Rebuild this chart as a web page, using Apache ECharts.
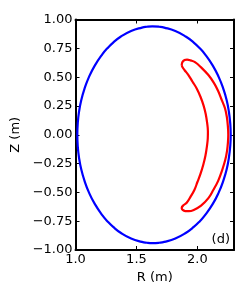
<!DOCTYPE html>
<html>
<head>
<meta charset="utf-8">
<script src="https://cdn.jsdelivr.net/npm/echarts@6/dist/echarts.min.js"></script>
<style>html,body{margin:0;padding:0;background:#fff}#c{width:249px;height:299px}</style>
</head>
<body>
<div id="c"></div>
<script>
// Plasma boundary (blue) : [R, Z]
var boundaryR = [1.015,1.0185,1.029,1.047,1.074,1.110,1.158,1.221,1.261,1.309,1.370,1.456,1.545,1.586,1.630,1.686,1.728,1.819,1.907,1.970,2.020,2.061,2.126,2.175,2.212,2.240,2.258,2.269,2.273,2.269,2.258,2.240,2.212,2.175,2.126,2.061,2.020,1.970,1.907,1.819,1.728,1.686,1.630,1.586,1.545,1.456,1.370,1.309,1.261,1.221,1.158,1.110,1.074,1.047,1.029,1.0185,1.015];
var boundaryZ = [0.00,0.10,0.20,0.30,0.40,0.50,0.60,0.70,0.75,0.80,0.85,0.90,0.93,0.937,0.94,0.937,0.93,0.90,0.85,0.80,0.75,0.70,0.60,0.50,0.40,0.30,0.20,0.10,0.00,-0.10,-0.20,-0.30,-0.40,-0.50,-0.60,-0.70,-0.75,-0.80,-0.85,-0.90,-0.93,-0.937,-0.94,-0.937,-0.93,-0.90,-0.85,-0.80,-0.75,-0.70,-0.60,-0.50,-0.40,-0.30,-0.20,-0.10,0.00];
// Crescent contour (red) : [R, Z]
var crescentR = [1.871,1.878,1.895,1.915,1.945,1.980,2.030,2.090,2.135,2.170,2.200,2.226,2.242,2.250,2.253,2.250,2.243,2.228,2.205,2.170,2.130,2.090,2.030,1.970,1.930,1.900,1.879,1.871,1.885,1.912,1.945,1.975,2.000,2.025,2.048,2.066,2.078,2.085,2.086,2.080,2.068,2.050,2.025,1.995,1.960,1.925,1.895,1.878,1.871];
var crescentZ = [0.605,0.632,0.648,0.652,0.645,0.630,0.585,0.518,0.450,0.380,0.300,0.230,0.150,0.070,0.000,-0.070,-0.140,-0.220,-0.300,-0.400,-0.480,-0.550,-0.615,-0.652,-0.663,-0.662,-0.652,-0.635,-0.612,-0.590,-0.535,-0.480,-0.410,-0.340,-0.260,-0.180,-0.100,-0.030,0.030,0.100,0.180,0.255,0.330,0.400,0.460,0.520,0.560,0.585,0.605];
var xTicks = [1.0, 1.5, 2.0];
var yTicks = [-1.0,-0.75,-0.5,-0.25,0.0,0.25,0.5,0.75,1.0];
var xLabel = 'R (m)';
var yLabel = 'Z (m)';
var panelTag = '(d)';

function pairs(a, b){ return a.map(function(v,i){ return [v, b[i]]; }); }
var FONT = 'DejaVu Sans';
function fmtY(v){ return v.toFixed(2).replace('-', '\u2212'); }
function fmtX(v){
  for (var i=0;i<xTicks.length;i++){ if (Math.abs(v-xTicks[i])<1e-6) return xTicks[i].toFixed(1); }
  return '';
}
var axLine = {show:true, onZero:false, lineStyle:{color:'#000', width:2}};
var ticks = {show:true, inside:true, length:4, lineStyle:{color:'#000', width:1}};

var chart = echarts.init(document.getElementById('c'), null, {renderer:'canvas'});
chart.setOption({
  animation:false,
  backgroundColor:'#fff',
  grid:{left:75.5, right:15, top:19.5, bottom:49},
  xAxis:[{
    type:'value', min:1.0, max:2.3, interval:0.5, position:'bottom',
    axisLine:axLine, axisTick:ticks, splitLine:{show:false},
    axisLabel:{show:true, margin:3, color:'#000', fontFamily:FONT, fontSize:13, showMaxLabel:false, formatter:fmtX},
    name:xLabel, nameLocation:'middle', nameGap:18,
    nameTextStyle:{color:'#000', fontFamily:FONT, fontSize:13}
  },{
    type:'value', min:1.0, max:2.3, interval:0.5, position:'top',
    axisLine:axLine, axisTick:ticks, axisLabel:{show:false}, splitLine:{show:false}
  }],
  yAxis:[{
    type:'value', min:-1.0, max:1.0, interval:0.25, position:'left',
    axisLine:axLine, axisTick:ticks, splitLine:{show:false},
    axisLabel:{show:true, margin:3, color:'#000', fontFamily:FONT, fontSize:13, formatter:fmtY},
    name:yLabel, nameLocation:'middle', nameGap:44,
    nameTextStyle:{color:'#000', fontFamily:FONT, fontSize:13}
  },{
    type:'value', min:-1.0, max:1.0, interval:0.25, position:'right',
    axisLine:axLine, axisTick:ticks, axisLabel:{show:false}, splitLine:{show:false}
  }],
  graphic:[{
    type:'text', right:19, bottom:53,
    style:{text:panelTag, fill:'#000', font:'13px "DejaVu Sans"'}
  }],
  series:[{
    type:'line', data:pairs(boundaryR, boundaryZ), smooth:0.5, showSymbol:false,
    lineStyle:{color:'#0000ff', width:2.2}, z:2
  },{
    type:'line', data:pairs(crescentR, crescentZ), smooth:0.4, showSymbol:false,
    lineStyle:{color:'#ff0000', width:2.2}, z:3
  }]
});
</script>
</body>
</html>
